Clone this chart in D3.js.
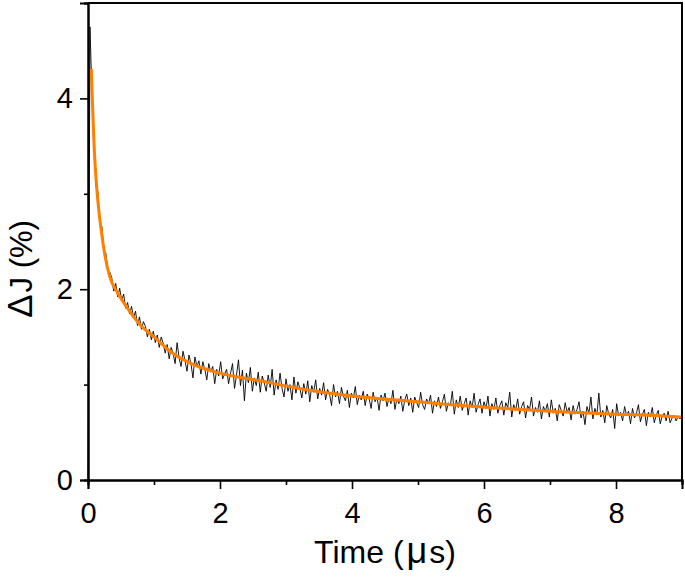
<!DOCTYPE html>
<html>
<head>
<meta charset="utf-8">
<script src="https://cdn.jsdelivr.net/npm/d3@7"></script>
<style>
	body { margin: 0; background: #fff; }
	#chart-div { width: 685px; height: 577px; }
	text { font-family: Arial, "Liberation Sans", sans-serif; fill: #000; }
</style>
</head>
<body>
<div id="chart-div"></div>
<script>
//Chart data

	//Sampling step of the measured trace (µs)
	var dt = 0.03;

	//Measured photocurrent change, one value per dt starting at t = 0
	var signal = [
		0, 4.75, 4.05, 3.62, 3.08, 3.02, 2.70, 2.66, 2.41, 2.38,
		2.20, 2.18, 2.12, 1.98, 2.06, 1.92, 2.01, 1.88, 1.95, 1.80,
		1.86, 1.74, 1.82, 1.70, 1.77, 1.62, 1.71, 1.58, 1.66, 1.61,
		1.50, 1.58, 1.47, 1.56, 1.44, 1.52, 1.39, 1.50, 1.43, 1.33,
		1.42, 1.27, 1.39, 1.33, 1.22, 1.44, 1.28, 1.19, 1.35, 1.25,
		1.14, 1.31, 1.22, 1.07, 1.29, 1.19, 1.25, 1.11, 1.24, 1.16,
		1.05, 1.22, 1.13, 1.19, 1.01, 1.16, 1.09, 1.24, 1.06, 1.11,
		1.16, 1.01, 1.12, 1.22, 0.96, 1.10, 1.26, 0.99, 1.15, 0.83,
		1.12, 1.02, 1.18, 0.93, 1.07, 0.99, 1.13, 0.92, 1.09, 1.02,
		0.93, 1.10, 0.97, 1.16, 0.89, 1.05, 0.95, 1.12, 0.96, 0.87,
		1.06, 0.93, 1.00, 0.84, 1.08, 0.91, 1.03, 0.96, 0.86, 1.01,
		0.90, 1.04, 0.82, 0.99, 0.92, 1.05, 0.85, 0.96, 0.89, 1.02,
		0.84, 0.95, 0.90, 0.78, 1.00, 0.87, 0.93, 0.80, 0.97, 0.88,
		0.83, 0.94, 0.76, 0.91, 0.86, 0.98, 0.79, 0.89, 0.84, 0.93,
		0.78, 0.90, 0.85, 0.75, 0.92, 0.82, 0.87, 0.73, 0.89, 0.83,
		0.91, 0.77, 0.86, 0.80, 0.94, 0.74, 0.85, 0.80, 0.88, 0.72,
		0.84, 0.90, 0.78, 0.86, 0.71, 0.87, 0.81, 0.76, 0.92, 0.79,
		0.74, 0.85, 0.80, 0.89, 0.70, 0.83, 0.77, 0.87, 0.75, 0.82,
		0.90, 0.72, 0.81, 0.78, 0.93, 0.69, 0.84, 0.76, 0.88, 0.73,
		0.80, 0.86, 0.68, 0.83, 0.76, 0.91, 0.71, 0.79, 0.85, 0.70,
		0.82, 0.75, 0.88, 0.67, 0.80, 0.74, 0.86, 0.70, 0.78, 0.83,
		0.68, 0.81, 0.76, 0.92, 0.66, 0.79, 0.73, 0.85, 0.69, 0.77,
		0.82, 0.65, 0.78, 0.74, 0.87, 0.67, 0.76, 0.71, 0.83, 0.64,
		0.77, 0.72, 0.80, 0.66, 0.84, 0.70, 0.75, 0.62, 0.79, 0.73,
		0.67, 0.81, 0.71, 0.76, 0.63, 0.78, 0.69, 0.74, 0.82, 0.65,
		0.72, 0.58, 0.77, 0.70, 0.87, 0.64, 0.75, 0.68, 0.91, 0.66,
		0.73, 0.60, 0.78, 0.69, 0.65, 0.74, 0.54, 0.80, 0.67, 0.71,
		0.62, 0.77, 0.68, 0.72, 0.59, 0.75, 0.65, 0.70, 0.79, 0.61,
		0.69, 0.74, 0.57, 0.71, 0.66, 0.76, 0.60, 0.68, 0.73, 0.59,
		0.67, 0.70, 0.62, 0.72, 0.60, 0.65, 0.68, 0.62, 0.66, 0.64,
		0.66
	];

	//Fitted decay curve
	var fitTime = [0.05, 0.1, 0.14, 0.2, 0.26, 0.33, 0.45, 0.6, 0.8, 1.0, 1.3, 1.6, 2.0, 2.6, 3.2, 4.0, 5.0, 5.5, 6.2, 7.0, 8.0, 8.5, 9.0];
	var fitValue = [4.31, 3.4, 3.0, 2.62, 2.34, 2.13, 1.96, 1.8, 1.62, 1.5, 1.32, 1.21, 1.12, 1.04, 0.96, 0.88, 0.82, 0.79, 0.755, 0.72, 0.69, 0.68, 0.66];

	//Tick labels
	var xMajor = [0, 2, 4, 6, 8],
		xMinor = [1, 3, 5, 7, 9],
		yMajor = [0, 2, 4],
		yMinor = [1, 3, 5];

//Canvas margin, height and width
	var margin = {top: 3, right: 3, bottom: 97, left: 88},
		w = 685 - margin.left - margin.right,
		h = 577 - margin.top - margin.bottom;

	var svg = d3.select("#chart-div").append("svg")
		.attr("width", w + margin.left + margin.right)
		.attr("height", h + margin.top + margin.bottom)
			.append("g")
			.attr("transform", "translate(" + margin.left + "," + margin.top + ")");

	//Scales
	var x = d3.scaleLinear().domain([0, 9]).range([0, w]);
	var y = d3.scaleLinear().domain([0, 5]).range([h, 0]);

	//Build point lists for the two lines
	var trace = signal.map(function(v, i) { return {t: i * dt, v: v}; });
	var fit = fitTime.map(function(t, i) { return {t: t, v: fitValue[i]}; });

	var line = d3.line()
		.x(function(d) { return x(d.t); })
		.y(function(d) { return y(d.v); });

	//Measured trace
	svg.append("path")
		.datum(trace)
		.attr("fill", "none")
		.attr("stroke", "#000")
		.attr("stroke-width", 0.9)
		.attr("d", line);

	//Fit
	svg.append("path")
		.datum(fit)
		.attr("fill", "none")
		.attr("stroke", "#ff7f00")
		.attr("stroke-width", 3)
		.attr("d", line.curve(d3.curveMonotoneX));

//Axes

	function styleAxis(g) {
		g.select(".domain").attr("stroke", "#000").attr("stroke-width", 2);
		g.selectAll(".tick line").attr("stroke", "#000").attr("stroke-width", 1.6);
		g.selectAll(".tick text").style("font-size", "29px");
	}

	svg.append("g")
		.attr("transform", "translate(0," + h + ")")
		.call(d3.axisBottom(x).tickValues(xMinor).tickSize(5).tickFormat(""))
		.call(styleAxis);

	svg.append("g")
		.attr("transform", "translate(0," + h + ")")
		.call(d3.axisBottom(x).tickValues(xMajor).tickSize(9).tickPadding(13).tickFormat(d3.format("d")))
		.call(styleAxis);

	svg.append("g")
		.call(d3.axisLeft(y).tickValues(yMinor).tickSize(4).tickFormat(""))
		.call(styleAxis);

	svg.append("g")
		.call(d3.axisLeft(y).tickValues(yMajor).tickSize(8).tickPadding(7).tickFormat(d3.format("d")))
		.call(styleAxis);

	//Top and right border
	svg.append("path")
		.attr("d", "M0,0H" + w + "V" + h)
		.attr("fill", "none")
		.attr("stroke", "#000")
		.attr("stroke-width", 2);

	//Axis titles, the greek letters a bit wider as in the original symbol font
	var xTitle = svg.append("text")
		.attr("x", w / 2)
		.attr("y", h + 83)
		.attr("text-anchor", "middle")
		.style("font-size", "32px");
	xTitle.append("tspan").text("Time (");
	xTitle.append("tspan").attr("dx", 3).style("font-size", "36px").text("μ");
	xTitle.append("tspan").attr("dx", 2).text("s)");

	var yTitle = svg.append("text")
		.attr("transform", "translate(" + (32 - margin.left) + "," + 266 + ") rotate(-90)")
		.attr("text-anchor", "middle")
		.style("font-size", "31px");
	yTitle.append("tspan").style("font-size", "35px").text("Δ");
	yTitle.append("tspan").attr("dx", 2).text("J (%)");
</script>
</body>
</html>
